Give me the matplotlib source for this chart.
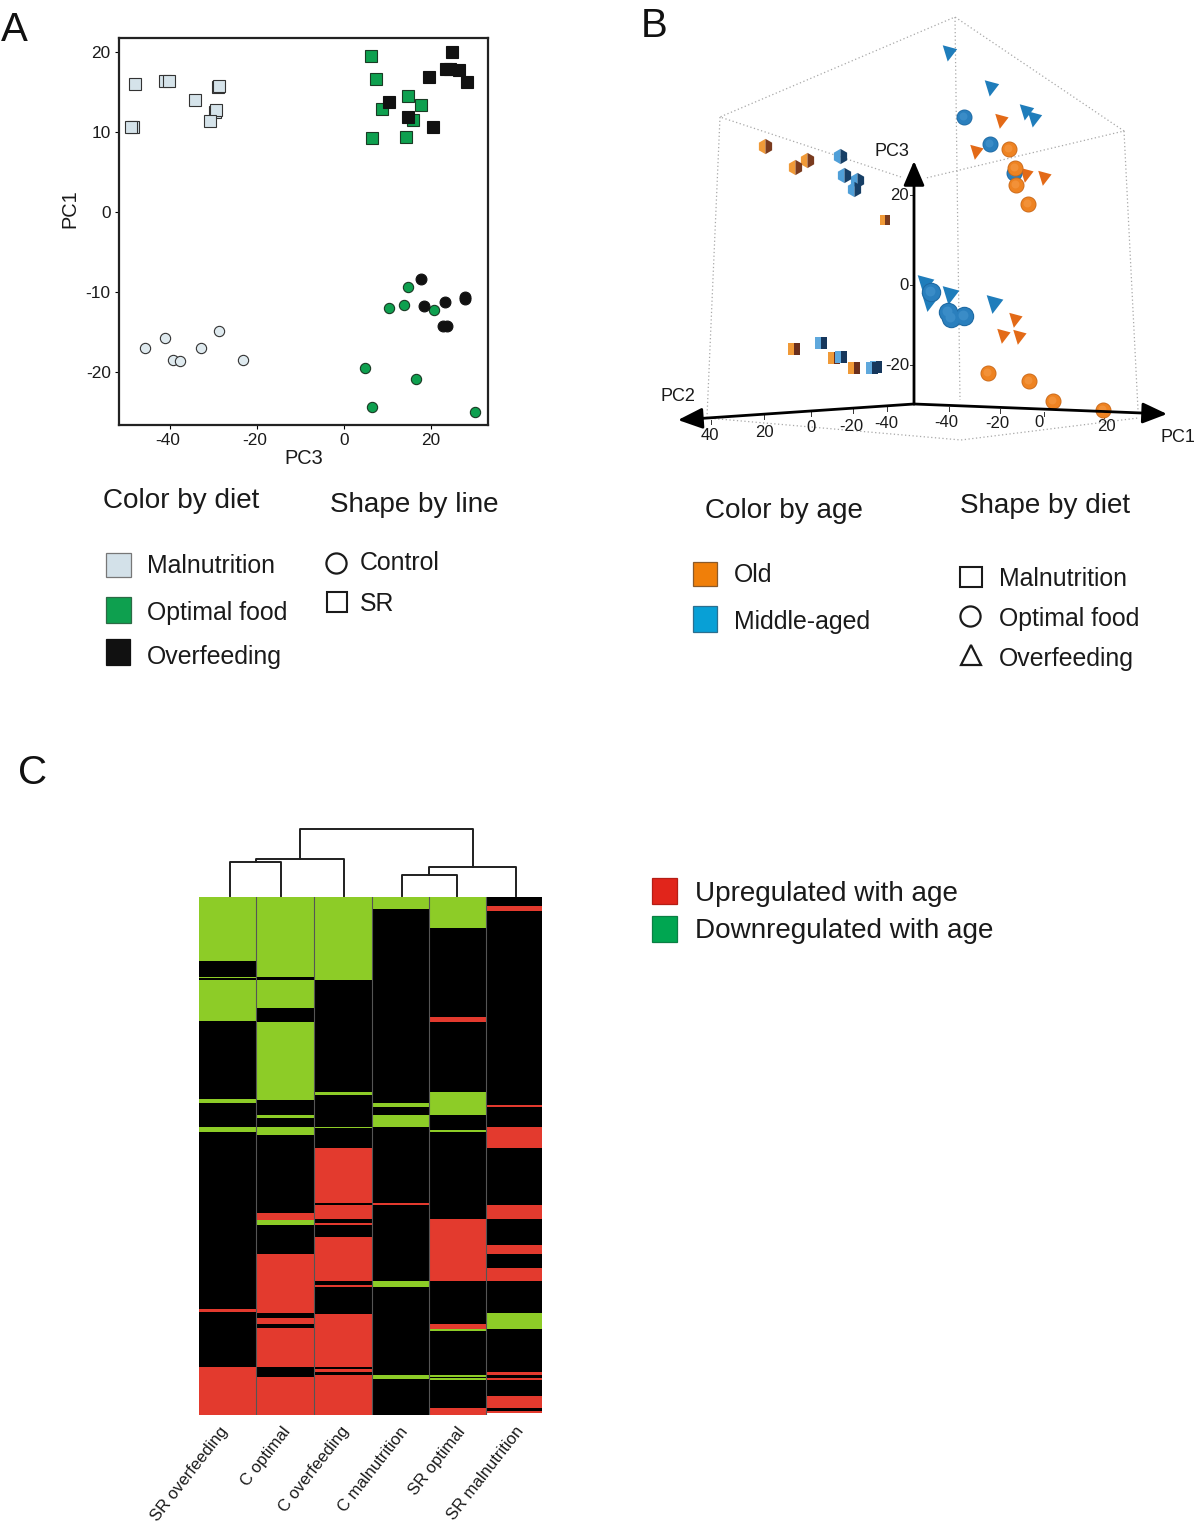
#!/usr/bin/env python3
"""Three panel figure: PCA scatter, 3D PCA view and clustered age-regulation heatmap."""

import matplotlib
matplotlib.use("Agg")
import matplotlib.pyplot as plt
import matplotlib.transforms as mtrans
import numpy as np
from matplotlib.colors import ListedColormap
from matplotlib.patches import Rectangle

plt.rcParams['font.family'] = ['Liberation Sans', 'DejaVu Sans']
plt.rcParams['axes.unicode_minus'] = False

W, H = 1200, 1523
INK = '#1a1a1a'

# Panel A, PC3 / PC1 scores
sr_mal_x = [-48.1, -41.2, -40.2, -34.2, -29.0, -28.7, -29.8, -29.5, -30.9, -48.6, -49.0]
sr_mal_y = [16.0, 16.3, 16.3, 13.9, 15.6, 15.7, 12.5, 12.7, 11.3, 10.6, 10.6]
sr_opt_x = [6.2, 7.5, 8.7, 14.8, 17.8, 16.0, 14.2, 6.5]
sr_opt_y = [19.5, 16.6, 12.9, 14.5, 13.3, 11.5, 9.4, 9.2]
sr_over_x = [24.8, 23.5, 24.5, 26.5, 28.3, 19.5, 10.4, 14.7, 20.5]
sr_over_y = [20.0, 17.8, 17.8, 17.7, 16.2, 16.8, 13.7, 11.8, 10.6]
c_mal_x = [-45.7, -41.3, -39.4, -37.7, -32.8, -28.8, -23.3]
c_mal_y = [-17.0, -15.7, -18.5, -18.6, -17.0, -14.9, -18.5]
c_opt_x = [14.8, 10.5, 13.8, 20.8, 4.8, 16.7, 6.5, 30.2]
c_opt_y = [-9.4, -12.0, -11.6, -12.3, -19.5, -20.8, -24.4, -25.0]
c_over_x = [17.8, 18.5, 23.4, 27.9, 27.9, 22.9, 23.7]
c_over_y = [-8.4, -11.7, -11.2, -10.6, -10.9, -14.3, -14.3]

# Panel B, positions as they fall on the page after the 3D projection
old_cube_x = [765, 807, 795]
old_cube_y = [146, 160, 167]
old_cube_far_x = [885]
old_cube_far_y = [220]
mid_cube_x = [840, 844, 857, 854]
mid_cube_y = [156, 175, 180, 189]
old_box_x = [794, 834, 854]
old_box_y = [349, 358, 368]
mid_box_x = [821, 841, 872, 876]
mid_box_y = [343, 357, 368, 367]
mid_ball_far_x = [964, 990, 1014]
mid_ball_far_y = [117, 144, 173]
old_ball_far_x = [1009, 1015, 1016, 1028]
old_ball_far_y = [149, 168, 185, 204]
mid_ball_x = [931, 951, 948, 964]
mid_ball_y = [292, 318, 312, 316]
old_ball_x = [988, 1029, 1053, 1103]
old_ball_y = [373, 381, 401, 410]
mid_tri_far_x = [949, 991, 1026, 1034]
mid_tri_far_y = [52, 87, 111, 118]
mid_tri_x = [925, 929, 950, 994]
mid_tri_y = [283, 301, 294, 303]
old_tri_x = [1001, 976, 1026, 1044, 1015, 1003, 1019]
old_tri_y = [120, 151, 174, 177, 319, 335, 336]

box_top_x = [901, 720, 955, 1124, 926]
box_top_y = [177, 117, 17, 131, 178]
box_floor_x = [707, 961, 1138]
box_floor_y = [418, 440, 418]
upright_top_x = [720, 955, 1124]
upright_top_y = [117, 17, 131]
upright_foot_x = [707, 960, 1138]
upright_foot_y = [417, 400, 410]

pc3_tick_labels = ['20', '0', '-20']
pc3_tick_y = [195, 285, 365]
pc2_tick_labels = ['40', '20', '0', '-20', '-40']
pc2_tick_x = [711, 764, 811, 853, 887]
pc2_tick_y = [420, 415, 412, 409, 407]
pc1_tick_labels = ['-40', '-20', '0', '20']
pc1_tick_x = [949, 1000, 1044, 1104]
pc1_tick_y = [407, 409, 412, 414]

# Panel C, columns as (state, number of rows), top to bottom
heat_labels = ['SR overfeeding', 'C optimal', 'C overfeeding',
               'C malnutrition', 'SR optimal', 'SR malnutrition']
sr_overfeeding = [('g', 64), ('k', 16), ('g', 1), ('k', 2), ('g', 41), ('k', 78), ('g', 4),
                  ('k', 24), ('g', 5), ('k', 177), ('r', 3), ('k', 55), ('r', 48)]
c_optimal = [('g', 80), ('k', 3), ('g', 28), ('k', 14), ('g', 78), ('k', 15), ('g', 3), ('k', 9),
             ('g', 8), ('k', 78), ('r', 7), ('g', 5), ('k', 29), ('r', 59), ('k', 5), ('r', 6),
             ('k', 4), ('r', 39), ('k', 10), ('r', 38)]
c_overfeeding = [('g', 83), ('k', 112), ('g', 3), ('k', 32), ('g', 1), ('k', 20), ('r', 55), ('k', 2),
                 ('r', 14), ('k', 4), ('r', 2), ('k', 12), ('r', 44), ('k', 4), ('r', 2), ('k', 27),
                 ('r', 53), ('k', 2), ('r', 3), ('k', 3), ('r', 40)]
c_malnutrition = [('g', 12), ('k', 194), ('g', 4), ('k', 8), ('g', 12), ('k', 76), ('r', 2), ('k', 76),
                  ('g', 6), ('k', 88), ('g', 4), ('k', 36)]
sr_optimal = [('g', 31), ('k', 89), ('r', 5), ('k', 70), ('g', 23), ('k', 15), ('g', 2), ('k', 87),
              ('r', 62), ('k', 43), ('r', 5), ('g', 2), ('k', 44), ('g', 2), ('k', 1), ('g', 2),
              ('k', 28), ('r', 7)]
sr_malnutrition = [('k', 9), ('r', 5), ('k', 194), ('r', 2), ('k', 20), ('r', 21), ('k', 57), ('r', 14),
                   ('k', 26), ('r', 9), ('k', 14), ('r', 13), ('k', 32), ('g', 16), ('k', 43), ('r', 3),
                   ('k', 3), ('r', 2), ('k', 16), ('r', 12), ('k', 3), ('r', 2), ('w', 2)]

# Dendrogram links on the page: left x, right x, bar y, foot of left leg, foot of right leg
link_left = [230, 256, 402, 429, 300]
link_right = [281, 344, 457, 516, 473]
link_top = [862, 859, 875, 867, 829]
link_left_foot = [896, 862, 896, 875, 859]
link_right_foot = [896, 896, 896, 896, 867]

STATE_CODES = {'k': 0, 'g': 1, 'r': 2, 'w': 3}
HEAT_CMAP = ListedColormap(['#000000', '#8dcc27', '#e33a2e', '#ffffff'])
HEAT_LEFT, HEAT_TOP, HEAT_RIGHT, HEAT_BOTTOM = 199, 897, 542, 1415
COLUMN_EDGES = [199, 256, 314, 372, 429, 486, 542]


def axes_from_pixels(fig, left, top, right, bottom):
    return fig.add_axes([left / W, 1 - bottom / H, (right - left) / W, (bottom - top) / H])


def draw_scatter(ax):
    groups = [
        (sr_mal_x, sr_mal_y, 's', '#d5e3ea', '#333333', 8.2),
        (sr_opt_x, sr_opt_y, 's', '#0ea04f', '#1a3a24', 8.2),
        (sr_over_x, sr_over_y, 's', '#111111', '#111111', 8.4),
        (c_mal_x, c_mal_y, 'o', '#dfeaef', '#333333', 7.4),
        (c_opt_x, c_opt_y, 'o', '#0ea04f', '#1a3a24', 7.4),
        (c_over_x, c_over_y, 'o', '#111111', '#111111', 7.8),
    ]
    for xs, ys, shape, face, edge, size in groups:
        ax.plot(xs, ys, ls='none', marker=shape, mfc=face, mec=edge, mew=0.8, ms=size)
    ax.set_xlim(-51.8, 33.2)
    ax.set_ylim(-26.6, 21.7)
    ax.set_xticks([-40, -20, 0, 20])
    ax.set_yticks([-20, -10, 0, 10, 20])
    ax.tick_params(labelsize=12.4, length=3, width=0.8, pad=3, labelcolor=INK)
    # negative labels sit a little left of their ticks in the original
    nudge = mtrans.ScaledTranslation(-2 / 72, 0, ax.figure.dpi_scale_trans)
    for tick_label in ax.get_xticklabels()[:2]:
        tick_label.set_transform(tick_label.get_transform() + nudge)
    for spine in ax.spines.values():
        spine.set_linewidth(1.6)
        spine.set_color('#222222')


def draw_box(page):
    style = dict(color='#a8a8a8', ls=(0, (1, 2)), lw=0.9, zorder=1)
    page.plot(box_top_x, box_top_y, **style)
    page.plot(box_floor_x, box_floor_y, **style)
    for x0, y0, x1, y1 in zip(upright_top_x, upright_top_y, upright_foot_x, upright_foot_y):
        page.plot([x0, x1], [y0, y1], **style)


def draw_axes_3d(page):
    origin = (914, 404)
    heads = [(914, 161), (678, 420), (1167, 414)]
    for head in heads:
        page.annotate('', xy=head, xytext=origin, zorder=6,
                      arrowprops=dict(arrowstyle='-|>,head_length=0.75,head_width=0.32', color='black',
                                      lw=2, mutation_scale=20, shrinkA=0, shrinkB=0))
    for y, lab in zip(pc3_tick_y, pc3_tick_labels):
        page.plot([910, 914], [y, y], color='#333333', lw=0.7, zorder=2)
        page.text(909, y, lab, ha='right', va='center', fontsize=12, color=INK)
    for x, y, lab, lx, ly in zip(pc2_tick_x, pc2_tick_y, pc2_tick_labels,
                                 [710, 764, 811, 851, 886], [435, 432, 427, 426, 423]):
        page.plot([x, x], [y, y + 4], color='#333333', lw=0.7, zorder=2)
        page.text(lx, ly, lab, ha='center', va='center', fontsize=12, color=INK)
    for x, y, lab, lx, ly in zip(pc1_tick_x, pc1_tick_y, pc1_tick_labels,
                                 [946, 997, 1039, 1106], [422, 423, 422, 426]):
        page.plot([x, x], [y, y + 4], color='#333333', lw=0.7, zorder=2)
        page.text(lx, ly, lab, ha='center', va='center', fontsize=12, color=INK)
    page.text(892, 151, 'PC3', ha='center', va='center', fontsize=13, color=INK)
    page.text(678, 396, 'PC2', ha='center', va='center', fontsize=13, color=INK)
    page.text(1178, 437, 'PC1', ha='center', va='center', fontsize=13, color=INK)


def draw_balls(fig, page, xs, ys, base, rim, glow, size):
    # dark rim, flat colour, then a slightly lighter spot nudged up and left
    page.plot(xs, ys, ls='none', marker='o', mfc=rim, mec=rim, ms=size, zorder=5)
    page.plot(xs, ys, ls='none', marker='o', mfc=base, mec=base, ms=size * 0.88, zorder=5,
              transform=mtrans.offset_copy(page.transData, fig, x=-0.3, y=0.3, units='points'))
    page.plot(xs, ys, ls='none', marker='o', mfc=glow, mec=glow, ms=size * 0.55, mew=0, zorder=5,
              transform=mtrans.offset_copy(page.transData, fig, x=-0.8, y=0.8, units='points'))


def draw_points_3d(fig, page):
    tri = [(-0.75, 0.8), (0.85, 0.37), (-0.2, -1.0)]
    page.plot(mid_tri_far_x, mid_tri_far_y, ls='none', marker=tri, mfc='#1f7dbb', mew=0, ms=13, zorder=4)
    page.plot(mid_tri_x, mid_tri_y, ls='none', marker=tri, mfc='#1f7dbb', mew=0, ms=15, zorder=4)
    page.plot(old_tri_x, old_tri_y, ls='none', marker=tri, mfc='#e36a17', mew=0, ms=12, zorder=4)

    page.plot(old_cube_x, old_cube_y, ls='none', marker='h', fillstyle='left', mfc='#f09a38',
              markerfacecoloralt='#7a3b1e', mew=0, ms=11, zorder=4)
    page.plot(old_cube_far_x, old_cube_far_y, ls='none', marker='s', fillstyle='left', mfc='#f09a38',
              markerfacecoloralt='#7a3b1e', mew=0, ms=6.5, zorder=4)
    page.plot(mid_cube_x, mid_cube_y, ls='none', marker='h', fillstyle='left', mfc='#4f9fd8',
              markerfacecoloralt='#173f66', mew=0, ms=11, zorder=4)
    page.plot(old_box_x, old_box_y, ls='none', marker='s', fillstyle='left', mfc='#f09a38',
              markerfacecoloralt='#6b2f1c', mew=0, ms=8, zorder=4)
    page.plot(mid_box_x, mid_box_y, ls='none', marker='s', fillstyle='left', mfc='#5fa8dc',
              markerfacecoloralt='#16375c', mew=0, ms=8.5, zorder=5)

    draw_balls(fig, page, mid_ball_far_x, mid_ball_far_y, '#2a7fbd', '#1f6aa3', '#3a8cc7', 10.5)
    draw_balls(fig, page, old_ball_far_x, old_ball_far_y, '#ee8322', '#c96a1c', '#f29138', 10.5)
    draw_balls(fig, page, mid_ball_x, mid_ball_y, '#2a7fbd', '#1f6aa3', '#3a8cc7', 13)
    draw_balls(fig, page, old_ball_x, old_ball_y, '#ee8322', '#c96a1c', '#f29138', 10.5)


def draw_legends(page):
    def swatch(x0, y0, x1, y1, face, edge):
        page.add_patch(Rectangle((x0, y0), x1 - x0, y1 - y0, fc=face, ec=edge, lw=0.9))

    def label(x, y, text, size=17.9):
        page.text(x, y, text, ha='left', va='baseline', fontsize=size, color=INK)

    label(103, 508, 'Color by diet', 20.1)
    label(330, 512, 'Shape by line', 20.1)
    swatch(106, 553, 131, 577, '#d3e1e9', '#777777')
    swatch(106, 597, 131, 623, '#0ea04f', '#2c6a45')
    swatch(106, 639, 130, 665, '#111111', '#111111')
    label(147, 573, 'Malnutrition')
    label(147, 620, 'Optimal food')
    label(147, 664, 'Overfeeding')
    page.plot([336], [563], ls='none', marker='o', mfc='none', mec=INK, mew=1.6, ms=14.5)
    page.add_patch(Rectangle((327, 592), 20, 20, fc='none', ec=INK, lw=1.5))
    label(360, 570, 'Control')
    label(360, 611, 'SR')

    label(705, 518, 'Color by age', 20.1)
    label(960, 513, 'Shape by diet', 20.1)
    swatch(693, 562, 717, 586, '#f07f09', '#8a5a2a')
    swatch(693, 606, 717, 632, '#08a0d6', '#2b6f8f')
    label(734, 582, 'Old')
    label(734, 629, 'Middle-aged')
    page.add_patch(Rectangle((960, 567), 22, 20, fc='none', ec=INK, lw=1.5))
    page.plot([970], [616], ls='none', marker='o', mfc='none', mec=INK, mew=1.6, ms=14.5)
    page.plot([971], [655], ls='none', marker='^', mfc='none', mec=INK, mew=1.6, ms=14.5)
    label(999, 586, 'Malnutrition')
    label(999, 626, 'Optimal food')
    label(999, 666, 'Overfeeding')

    swatch(652, 878, 677, 904, '#e1251b', '#b51d15')
    swatch(652, 916, 677, 942, '#00a651', '#0a7f43')
    label(695, 901, 'Upregulated with age', 20.1)
    label(695, 938, 'Downregulated with age', 20.1)


def draw_heatmap(ax):
    columns = [sr_overfeeding, c_optimal, c_overfeeding, c_malnutrition, sr_optimal, sr_malnutrition]
    matrix = np.column_stack([
        np.concatenate([np.full(n, STATE_CODES[s]) for s, n in col]) for col in columns
    ])
    row_edges = np.arange(matrix.shape[0] + 1)
    ax.pcolormesh(COLUMN_EDGES, row_edges, matrix, cmap=HEAT_CMAP, vmin=0, vmax=3, shading='flat')
    ax.set_xlim(HEAT_LEFT, HEAT_RIGHT)
    ax.set_ylim(matrix.shape[0], 0)
    for x in COLUMN_EDGES[1:-1]:
        ax.axvline(x, color='#555555', lw=0.8)
    ax.axis('off')


def draw_dendrogram(page):
    for x0, x1, top, foot0, foot1 in zip(link_left, link_right, link_top, link_left_foot, link_right_foot):
        page.plot([x0, x0, x1, x1], [foot0, top, top, foot1], color='#1f1f1f', lw=1.4)


def main():
    fig = plt.figure(figsize=(W / 100, H / 100), dpi=100)

    page = fig.add_axes([0, 0, 1, 1])
    page.set_xlim(0, W)
    page.set_ylim(H, 0)
    page.axis('off')

    ax_a = axes_from_pixels(fig, 119, 38, 488, 425)
    draw_scatter(ax_a)
    page.text(70, 209, 'PC1', rotation=90, ha='center', va='center', fontsize=14.4, color=INK)
    page.text(304, 458, 'PC3', ha='center', va='center', fontsize=14.4, color=INK)

    draw_box(page)
    draw_axes_3d(page)
    draw_points_3d(fig, page)
    draw_legends(page)
    draw_dendrogram(page)

    ax_c = axes_from_pixels(fig, HEAT_LEFT, HEAT_TOP, HEAT_RIGHT, HEAT_BOTTOM)
    draw_heatmap(ax_c)
    for lab, x in zip(heat_labels, [219, 282, 340, 399, 456, 515]):
        page.text(x, 1424, lab, rotation=52, rotation_mode='anchor', ha='right', va='top',
                  fontsize=12, color=INK)

    for lab, x, y in [('A', 1, 41), ('B', 641, 37), ('C', 18, 784)]:
        page.text(x, y, lab, ha='left', va='baseline', fontsize=29, color='#111111')

    fig.savefig('out.png', dpi=100)


if __name__ == "__main__":
    main()
